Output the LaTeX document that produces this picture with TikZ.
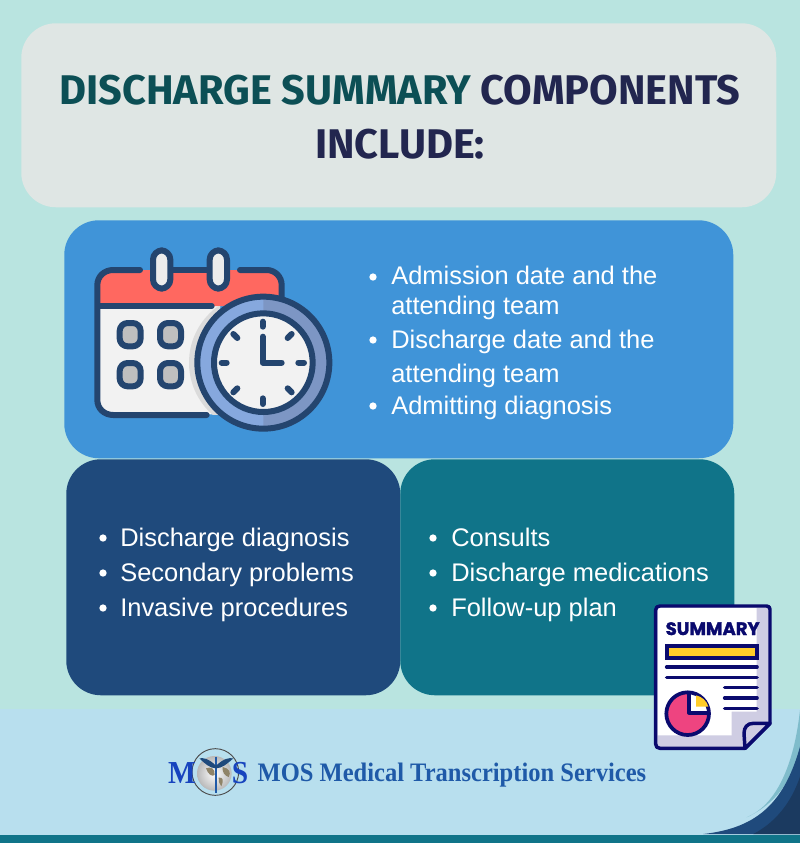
\documentclass[tikz,border=0pt]{standalone}
\usepackage{fontspec}
\setmainfont{Fira Sans}
\newfontfamily\itemfont{Liberation Sans}
\newfontfamily\logofont[FakeStretch=0.92]{Liberation Serif}
\newfontfamily\sumfont[BoldFeatures={FakeBold=1.6}]{Poppins}
\definecolor{bgc}{HTML}{B9E4E0}
\definecolor{titlebg}{HTML}{DFE6E4}
\definecolor{bluebox}{HTML}{4094D8}
\definecolor{darkbox}{HTML}{1F4A7C}
\definecolor{tealbox}{HTML}{107489}
\definecolor{footerc}{HTML}{B8DFEE}
\definecolor{ttl}{HTML}{0C4F55}
\definecolor{ttn}{HTML}{22264F}
\definecolor{ink}{HTML}{24456F}
\definecolor{navy}{HTML}{0A0A6E}
\definecolor{lav}{HTML}{CFCDE3}
\definecolor{logoblue}{HTML}{1F5AA8}
\definecolor{calred}{HTML}{FF6860}
\definecolor{ringl}{HTML}{86A8DE}
\definecolor{ringr}{HTML}{7D96C4}
\definecolor{docy}{HTML}{FFCC29}
\definecolor{docp}{HTML}{EE4480}
\definecolor{sliver}{HTML}{7FBCCB}
\definecolor{deep}{HTML}{1B3A60}
\definecolor{tan}{HTML}{8F8468}
\tikzset{
  panel/.style={rounded corners=26pt,draw=none},
  titletext/.style={anchor=base,inner sep=0pt,font=\fontsize{31.1}{36}\selectfont\bfseries},
  item/.style={anchor=base west,inner sep=0pt,text=white,font=\itemfont\fontsize{19.1}{22}\selectfont},
  dotb/.style={circle,fill=white,inner sep=0pt,minimum size=5.5pt},
  calline/.style={draw=ink,line width=4.5pt,line cap=round,line join=round},
  docline/.style={draw=navy,line width=2.7pt,line cap=round,line join=round},
}
\begin{document}
\begin{tikzpicture}[x=0.75pt,y=-0.75pt]
\useasboundingbox (0,0) rectangle (800,843);
\fill[bgc] (0,0) rectangle (800,843);
% footer
\fill[footerc] (0,709) rectangle (800,843);
\begin{scope}[shift={(640,590)},x=0.25pt,y=-0.25pt]
  \fill[sliver] (320,682) .. controls (420,640) and (465,500) .. (480,360) -- (480,480) .. controls (455,570) and (410,640) .. cycle;
  \fill[darkbox] (190,732) .. controls (340,715) and (430,650) .. (480,470) -- (480,732) -- cycle;
  \fill[deep] (340,732) .. controls (420,690) and (460,620) .. (480,560) -- (480,732) -- cycle;
\end{scope}
\fill[tealbox] (0,835) rectangle (800,843);
% panels
\node[panel,fill=titlebg,minimum width=566.25pt,minimum height=138pt,anchor=north west,inner sep=0pt] (titlepanel) at (21,23) {};
\node[panel,fill=bluebox,minimum width=501.75pt,minimum height=178.5pt,anchor=north west,inner sep=0pt] (topbox) at (64,220) {};
\node[panel,fill=darkbox,minimum width=250.5pt,minimum height=177pt,anchor=north west,inner sep=0pt] (leftbox) at (66,459) {};
\node[panel,fill=tealbox,minimum width=250.5pt,minimum height=177pt,anchor=north west,inner sep=0pt] (rightbox) at (400,459) {};
% title
\node[titletext] (t1) at (400,104) {\textcolor{ttl}{DISCHARGE SUMMARY} \textcolor{ttn}{COMPONENTS}};
\node[titletext,text=ttn] (t2) at (400,158) {INCLUDE:};
% items
\node[item] (a1) at (391,284) {Admission date and the};
\node[item] (a2) at (391,314) {attending team};
\node[item] (a3) at (391,348) {Discharge date and the};
\node[item] (a4) at (391,382) {attending team};
\node[item] (a5) at (391,414) {Admitting diagnosis};
\node[dotb] (da1) at (373,277) {};
\node[dotb] (da3) at (373,340) {};
\node[dotb] (da5) at (373,406) {};
\node[item] (b1) at (120,546) {Discharge diagnosis};
\node[item] (b2) at (120,581) {Secondary problems};
\node[item] (b3) at (120,616) {Invasive procedures};
\node[dotb] (db1) at (103,538) {};
\node[dotb] (db2) at (103,573) {};
\node[dotb] (db3) at (103,608) {};
\node[item] (c1) at (451,546) {Consults};
\node[item] (c2) at (451,581) {Discharge medications};
\node[item] (c3) at (451,616) {Follow-up plan};
\node[dotb] (dc1) at (433,538) {};
\node[dotb] (dc2) at (433,573) {};
\node[dotb] (dc3) at (433,608) {};
% calendar + clock
\begin{scope}[shift={(80,230)},x=0.25pt,y=-0.25pt]
  \fill[white!95!black] (55,228) -- (420,228) -- (420,553) -- (100,553) .. controls (72,553) and (55,535) .. (55,510) -- cycle;
  \fill[calred] (55,228) -- (55,165) .. controls (55,140) and (75,120) .. (100,120) -- (560,120) .. controls (585,120) and (600,140) .. (600,165) -- (600,228) -- cycle;
  \begin{scope}
    \clip (55,228) rectangle (420,553);
    \fill[gray!28] (535,398) circle (208);
  \end{scope}
  \draw[calline] (180,120) -- (100,120) .. controls (72,120) and (52,140) .. (52,165) -- (52,510) .. controls (52,535) and (72,555) .. (100,555) -- (380,555);
  \draw[calline] (275,120) -- (385,120);
  \draw[calline] (480,120) -- (560,120) .. controls (585,120) and (605,140) .. (605,165) -- (605,200);
  \draw[calline] (55,228) -- (395,228);
  \foreach \cx in {245,415} {
    \draw[calline,fill=gray!15,rounded corners=7pt] (\cx-26,61) rectangle (\cx+26,176);
  }
  \foreach \dx/\dy in {119/279,240/279,119/399,240/399} {
    \draw[calline,fill=gray!50,rounded corners=6pt] (\dx,\dy) rectangle (\dx+63,\dy+70);
  }
  \fill[ringr] (550,398) circle (198);
  \begin{scope}
    \clip (340,190) rectangle (550,610);
    \fill[ringl] (550,398) circle (198);
  \end{scope}
  \draw[calline] (550,398) circle (198);
  \draw[calline,fill=gray!10] (550,398) circle (148);
  \draw[calline] (548,320) -- (548,398) -- (605,398);
  \foreach \xa/\ya/\xb/\yb in {548/275/548/290, 548/505/548/522, 425/398/440/398, 655/398/672/398, 460/312/472/324, 635/312/623/324, 460/487/472/475, 635/487/623/475} {
    \draw[calline] (\xa,\ya) -- (\xb,\yb);
  }
\end{scope}
% summary document
\begin{scope}[shift={(640,590)},x=0.25pt,y=-0.25pt]
  \fill[lav] (60,48) -- (380,48) .. controls (386,48) and (390,52) .. (390,58) -- (390,400) -- (315,475) -- (60,475) .. controls (52,475) and (47,470) .. (47,462) -- (47,60) .. controls (47,52) and (52,48) .. (60,48) -- cycle;
  \fill[white] (53,54) -- (350,54) -- (350,365) -- (275,365) -- (275,436) -- (53,436) -- cycle;
  \draw[navy,line width=2.6pt,line join=round] (60,48) -- (380,48) .. controls (386,48) and (390,52) .. (390,58) -- (390,400) -- (315,475) -- (60,475) .. controls (52,475) and (47,470) .. (47,462) -- (47,60) .. controls (47,52) and (52,48) .. (60,48) -- cycle;
  \draw[navy,line width=2.6pt,line join=round,fill=lav] (390,400) -- (340,400) .. controls (322,400) and (312,412) .. (312,430) -- (315,475) -- cycle;
  \node[anchor=center,inner sep=0pt,text=navy,font=\sumfont\fontsize{13.5}{15}\selectfont\bfseries] (sumt) at (218,116) {SUMMARY};
  \draw[navy,line width=3pt,fill=docy] (80,169) rectangle (351,204);
  \draw[docline] (80,231) -- (351,231);
  \draw[docline] (80,262) -- (351,262);
  \draw[docline] (254,293) -- (351,293);
  \draw[docline] (254,324) -- (351,324);
  \draw[docline] (254,355) -- (351,355);
  \fill[docp] (143,371) circle (66);
  \begin{scope}
    \clip (143,371) circle (66);
    \fill[white] (146,367) rectangle (215,300);
  \end{scope}
  \draw[navy,line width=2.8pt] (143,371) circle (64);
  \fill[docy] (168,316) .. controls (186,320) and (200,332) .. (205,350) -- (168,350) -- cycle;
  \draw[navy,line width=3pt,line join=round] (147,306) -- (147,368) -- (208,368);
\end{scope}
% logo
\begin{scope}[shift={(150,735)},x=0.25pt,y=-0.25pt]
  \draw[black!70,line width=0.7pt] (196,111) circle (70);
  \shade[inner color=white,outer color=gray!55] (193,115) circle (52);
  \fill[tan] (168,100) .. controls (182,94) and (196,100) .. (194,120) .. controls (186,126) and (174,118) .. cycle;
  \fill[tan] (218,96) .. controls (238,100) and (244,112) .. (236,126) .. controls (224,122) and (216,112) .. cycle;
  \fill[tan] (206,128) .. controls (218,126) and (222,134) .. (214,154) .. controls (208,146) and (204,138) .. cycle;
  \draw[logoblue,line width=1.5pt] (198,65) -- (198,175);
  \fill[darkbox] (198,92) .. controls (175,70) and (160,68) .. (148,70) .. controls (165,86) and (180,100) .. (198,100) .. controls (216,100) and (232,86) .. (250,70) .. controls (236,68) and (222,70) .. (198,92) -- cycle;
  \node[anchor=base,inner sep=0pt,text=logoblue!75!blue,font=\logofont\fontsize{24}{26}\selectfont\bfseries] (logom) at (96,144) {M};
  \node[anchor=base,inner sep=0pt,text=logoblue!75!blue,font=\logofont\fontsize{24}{26}\selectfont\bfseries] (logos) at (270,144) {S};
  \node[anchor=base west,inner sep=0pt,text=logoblue,font=\logofont\fontsize{20}{22}\selectfont\bfseries] (logot) at (322,140) {MOS Medical Transcription Services};
\end{scope}
\end{tikzpicture}
\end{document}
